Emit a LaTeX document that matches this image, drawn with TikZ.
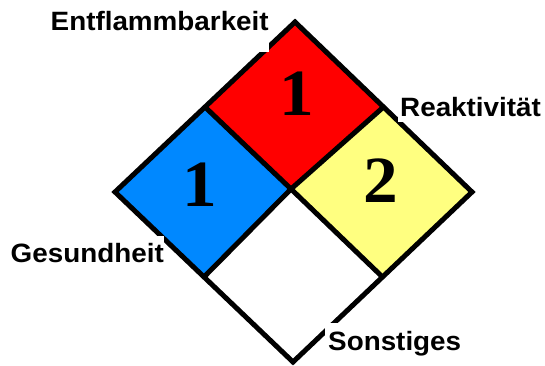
\documentclass[tikz,border=0pt]{standalone}
\usepackage{fontspec}
\usetikzlibrary{calc}
\setmainfont{Liberation Serif}[FakeStretch=1.05]
\newfontfamily\labelfont{Liberation Sans}[FakeStretch=1.05]
\definecolor{nfpared}{RGB}{255,0,0}
\definecolor{nfpablue}{RGB}{0,136,255}
\definecolor{nfpayellow}{RGB}{255,255,128}
\tikzset{
  border/.style={line width=5pt, line join=miter, black},
  digit/.style={font=\fontsize{66}{66}\selectfont\bfseries, inner sep=0pt, anchor=center},
  caption/.style={font=\labelfont\fontsize{26.5}{30}\selectfont\bfseries, inner sep=0pt, anchor=base west},
}
\begin{document}
\begin{tikzpicture}[x=1pt,y=-1pt]
\useasboundingbox[fill=white] (0,0) rectangle (545,366);
\coordinate (T) at (295,22);
\coordinate (R) at (472,192);
\coordinate (B) at (293,362);
\coordinate (L) at (115,192);
\coordinate (C) at (291,189);
\coordinate (mUL) at ($(T)!0.5!(L)$);
\coordinate (mUR) at ($(T)!0.5!(R)$);
\coordinate (mLR) at ($(B)!0.5!(R)$);
\coordinate (mLL) at ($(B)!0.5!(L)$);
\fill[nfpared] (T) -- (mUR) -- (C) -- (mUL) -- cycle;
\fill[nfpayellow] (mUR) -- (R) -- (mLR) -- (C) -- cycle;
\fill[white] (C) -- (mLR) -- (B) -- (mLL) -- cycle;
\fill[nfpablue] (mUL) -- (C) -- (mLL) -- (L) -- cycle;
\draw[border] (T) -- (R) -- (B) -- (L) -- cycle;
\draw[border] (mUL) -- (C) -- (mLR);
\draw[border] (mUR) -- (C) -- (mLL);
\node[digit] (fire) at (297,94) {1};
\node[digit] (health) at (200,185) {1};
\node[digit] (react) at (381,181) {2};
\fill[white] (40,0) rectangle (269,52);
\fill[white] (398,95) rectangle (545,122);
\fill[white] (5,236) rectangle (164,263);
\fill[white] (325,323) rectangle (470,356);
\node[caption] (lfire) at (50.5,31) {Entflammbarkeit};
\node[caption] (lreact) at (400,117) {Reaktivität};
\node[caption] (lhealth) at (10.5,262) {Gesundheit};
\node[caption] (lother) at (328,350) {Sonstiges};
\end{tikzpicture}
\end{document}
